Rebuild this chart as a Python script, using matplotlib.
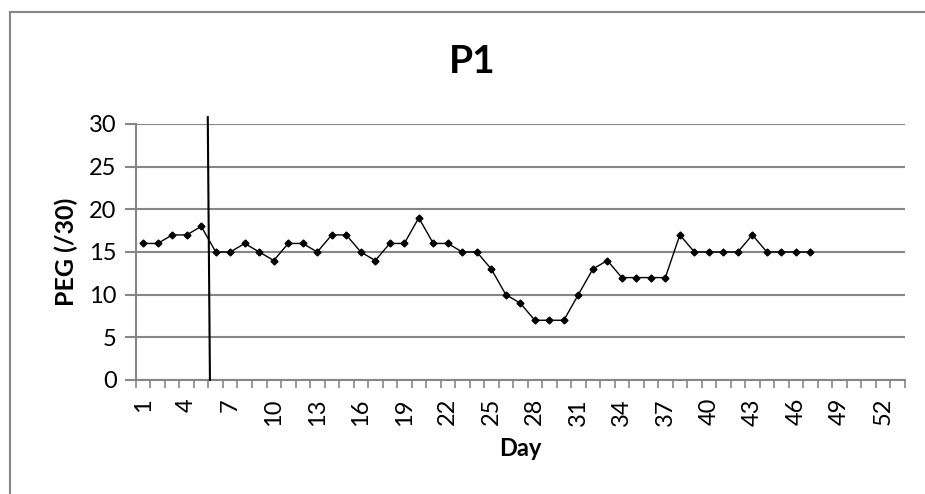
import matplotlib
matplotlib.use('Agg')
import matplotlib.pyplot as plt
from matplotlib.lines import Line2D
from matplotlib.ticker import FixedLocator

plt.rcParams['font.family'] = ['Lato', 'DejaVu Sans']

# PEG score per day (days 1..47), axis runs to day 53
days = list(range(1, 48))
peg = [16, 16, 17, 17, 18, 15, 15, 16, 15, 14,
       16, 16, 15, 17, 17, 15, 14, 16, 16, 19,
       16, 16, 15, 15, 13, 10, 9, 7, 7, 7,
       10, 13, 14, 12, 12, 12, 12, 17, 15, 15,
       15, 15, 17, 15, 15, 15, 15]
n_cats = 53
tick_days = list(range(1, n_cats + 1, 3))
yticks = [0, 5, 10, 15, 20, 25, 30]

# hand drawn marker line (day ~5.5)
marker_x = [5.45, 5.6]
marker_y = [30.8, 0]

grey = '#868686'

fig = plt.figure(figsize=(9.25, 4.94), dpi=100)
ax = fig.add_axes([0.147, 0.2308, 0.831, 0.5182])

ax.plot(days, peg, color='black', lw=1, marker='D', markersize=3.5, zorder=3)
ax.plot(marker_x, marker_y, color='black', lw=1.5, clip_on=False, zorder=4)

ax.set_xlim(0.5, n_cats + 0.5)
ax.set_ylim(0, 30)
ax.set_yticks(yticks)
ax.set_xticks(tick_days)
ax.set_xticklabels([str(d) for d in tick_days], rotation=90)
ax.xaxis.set_minor_locator(FixedLocator([i + 0.5 for i in range(0, n_cats + 1)]))
ax.tick_params(axis='x', which='major', length=0, pad=13, labelsize=17)
ax.tick_params(axis='x', which='minor', length=6, width=1.2, color=grey)
ax.tick_params(axis='y', length=8, width=1.5, color=grey, labelsize=17, pad=6)

ax.grid(axis='y', color=grey, lw=1.5)
ax.set_axisbelow(True)
for s in ['top', 'right']:
    ax.spines[s].set_visible(False)
for s in ['left', 'bottom']:
    ax.spines[s].set_color(grey)
    ax.spines[s].set_linewidth(1.5)

ax.set_ylabel('PEG (/30)', fontsize=18, fontweight='bold', labelpad=8)
ax.set_xlabel('Day', fontsize=17, fontweight='bold', labelpad=8)
fig.text(0.51, 0.875, 'P1', ha='center', va='center', fontsize=28, fontweight='bold')

# chart area border (top and left edges visible)
fig.add_artist(Line2D([10/925, 1.0], [1 - 12/494, 1 - 12/494], color=grey, lw=1.5))
fig.add_artist(Line2D([10/925, 10/925], [0, 1 - 12/494], color=grey, lw=1.5))

fig.savefig('out.png', dpi=100)
